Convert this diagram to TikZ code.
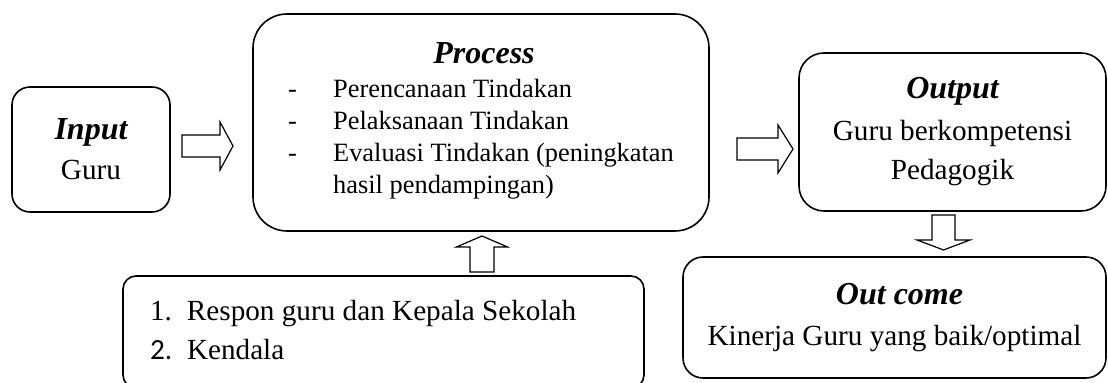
\documentclass[tikz,border=0pt]{standalone}
\usepackage{fontspec}
\setmainfont{Liberation Serif}
\newfontfamily\numfont{Carlito}
\usepackage{tikz}

\newcommand{\ttl}[1]{{\fontsize{16}{20}\selectfont\bfseries\itshape #1}}

\tikzset{
    box/.style={draw, line width=0.8pt, inner sep=0pt, align=center,
        font=\fontsize{14.6}{20}\selectfont,
        execute at begin node={\spaceskip=0pt\xspaceskip=0pt}},
    blockarrow/.style={draw, line width=0.6pt, fill=white, line join=miter}
}

\begin{document}
\begin{tikzpicture}[x=0.5pt,y=-0.5pt]
    \useasboundingbox (0,0) rectangle (1108,383);
    \node [box, rounded corners=9pt, minimum width=79pt, minimum height=62.5pt] (input) at (91,149.5)
        {\ttl{Input}\\ Guru};
    \node [box, rounded corners=17pt, minimum width=228pt, minimum height=108.5pt,
        font=\fontsize{13.2}{16}\selectfont] (process) at (481,122.5)
        {\begin{tabular}{@{}p{22.5pt}@{}l@{}}
            \multicolumn{2}{@{}c@{}}{\hspace{3pt}\ttl{Process}}\\[1pt]
            - & Perencanaan Tindakan\\
            - & Pelaksanaan Tindakan\\
            - & Evaluasi Tindakan (peningkatan\\
              & hasil pendampingan)
        \end{tabular}};
    \node [box, rounded corners=12.5pt, minimum width=153.5pt, minimum height=79pt,
        font=\fontsize{14.6}{19.5}\selectfont] (output) at (952.5,132)
        {\ttl{Output}\\[1.5pt] Guru berkompetensi\\ Pedagogik};
    \node [box, rounded corners=10pt, minimum width=211.5pt, minimum height=60.5pt] (outcome) at (894.5,317.5)
        {\hspace{5pt}\ttl{Out come}\\[0.5pt] Kinerja Guru yang baik/optimal};
    \node [box, rounded corners=6.5pt, minimum width=260.5pt, minimum height=56pt,
        text width=233.5pt, align=left, font=\fontsize{14.6}{19.5}\selectfont] (kendala) at (383.5,332)
        {\noindent\begin{tabular}{@{}p{18.5pt}@{}l@{}}
            1. & Respon guru dan Kepala Sekolah\\
            {\numfont 2.} & Kendala
        \end{tabular}};

    \coordinate (t1) at (182,146);
    \coordinate (t2) at (737,149);
    \coordinate (t3) at (943.5,215);
    \coordinate (t4) at (482,272);
    \foreach \t/\ang/\len/\sh/\hd/\hl in {t1/0/38/11/24/13, t2/0/41/11/24/15,
                                          t3/-90/25/11.5/26.5/10, t4/90/25/12/25.5/11}
        \draw [blockarrow, shift={(\t)}, rotate=\ang] (0,-\sh) -- (\len,-\sh) -- (\len,-\hd)
            -- (\len+\hl,0) -- (\len,\hd) -- (\len,\sh) -- (0,\sh) -- cycle;
\end{tikzpicture}
\end{document}
